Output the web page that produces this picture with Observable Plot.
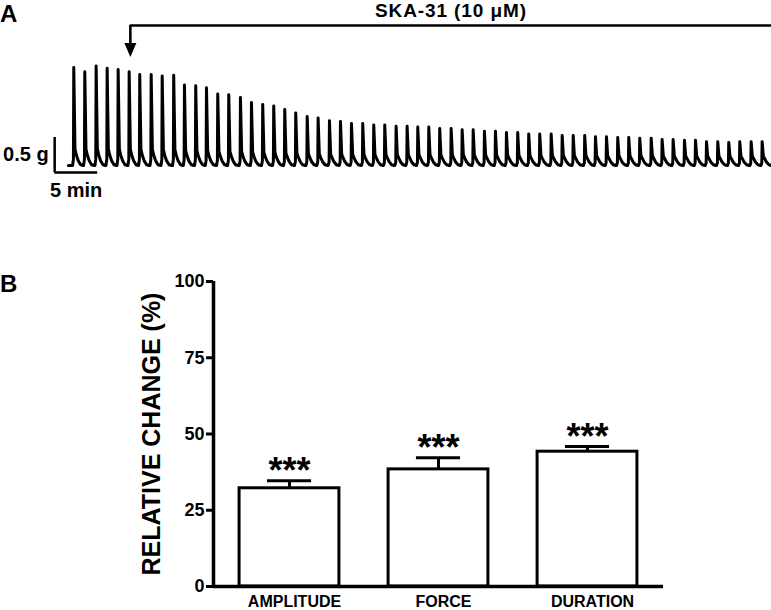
<!DOCTYPE html>
<html><head><meta charset="utf-8">
<script src="https://cdn.jsdelivr.net/npm/d3@7"></script>
<script src="https://cdn.jsdelivr.net/npm/@observablehq/plot@0.6"></script>
<style>
body{margin:0;background:#fff;}
#wrap{position:relative;width:771px;height:610px;font-family:"Liberation Sans",Arial,sans-serif;font-weight:bold;overflow:hidden;}
.panel{position:absolute;left:0;}
.letter{position:absolute;left:0;font-size:24px;line-height:normal;color:#000;}
</style></head><body>
<div id="wrap">
<div id="a" class="panel" style="top:0"></div>
<div id="b" class="panel" style="top:200px"></div>
<div class="letter" style="top:0px">A</div>
<div class="letter" style="top:270px">B</div>
</div>
<script>
// ---- Panel A data: contraction peaks (time in min, tension in g above baseline)
const peakTimes = [0.62,1.90,3.22,4.50,5.78,7.06,8.29,9.62,10.90,12.24,
  13.49,14.80,16.05,17.36,18.64,20.00,21.28,22.59,23.87,25.15,
  26.43,27.76,29.03,30.35,31.63,32.91,34.22,35.50,36.78,38.10,
  39.38,40.62,41.90,43.17,44.50,45.78,47.06,48.37,49.65,50.93,
  52.24,53.52,54.80,56.13,57.41,58.69,60.03,61.28,62.56,63.87,
  65.15,66.43,67.76,69.03,70.31,71.63,72.91,74.19,75.50,76.78,
  78.06,79.38,80.66];
const peakForces = [1.40,1.34,1.42,1.39,1.37,1.34,1.30,1.30,1.28,1.29,
  1.15,1.14,1.11,1.02,1.01,0.97,0.90,0.87,0.85,0.80,
  0.75,0.70,0.68,0.64,0.63,0.60,0.60,0.58,0.58,0.56,
  0.56,0.55,0.55,0.53,0.53,0.51,0.51,0.49,0.49,0.47,
  0.47,0.45,0.45,0.45,0.43,0.43,0.43,0.41,0.41,0.40,
  0.40,0.39,0.39,0.37,0.37,0.36,0.36,0.34,0.34,0.33,
  0.34,0.34,0.34];
// contraction profile: [offset from peak (min), fraction of peak, extra tension (g)]
const waveProfile = [[-0.14,0,0],[-0.04,0.05,0.02],[0,1,0],[0.14,0.10,0.10],[0.30,0.05,0.08],[0.52,0.02,0.04],[0.80,0,0.01],[1.10,0,0]];
const traceStart = 0, traceEnd = 81.75;
const drug = {label: "SKA-31 (10 \u03BCM)", start: 7.2, end: 81.75, level: 2.0, tip: 1.55};
const scaleBar = {t0: -1.6, g0: -0.1, dg: 0.5, dt: 5, gLabel: "0.5 g", tLabel: "5 min"};

// ---- Panel B data
const categories = ["AMPLITUDE", "FORCE", "DURATION"];
const means = [32.2, 38.4, 44.2];
const sems = [2.5, 3.8, 1.7];
const significance = ["***", "***", "***"];
const yTicks = [0, 25, 50, 75, 100];
const yLabel = "RELATIVE CHANGE (%)";

const font = '"Liberation Sans", Arial, sans-serif';

// build trace
const trace = [{t: traceStart, g: 0}];
peakTimes.forEach((t, i) => {
  for (const [dt, f, extra] of waveProfile) trace.push({t: t + dt, g: f * peakForces[i] + extra});
});
trace.push({t: traceEnd, g: 0});

const downTriangle = {
  draw(ctx, size) {
    const r = Math.sqrt(size / Math.PI);
    ctx.moveTo(0, 0);
    ctx.lineTo(-r, -2.33 * r);
    ctx.lineTo(r, -2.33 * r);
    ctx.closePath();
  }
};

const plotA = Plot.plot({
  width: 771, height: 200, margin: 0,
  x: {domain: [-7.9, 81.75], axis: null},
  y: {domain: [-0.5, 2.357], axis: null},
  style: {fontFamily: font, fontWeight: "bold", background: "transparent", overflow: "visible"},
  marks: [
    Plot.line(trace, {x: "t", y: "g", stroke: "black", strokeWidth: 3, strokeLinejoin: "round"}),
    Plot.ruleX([scaleBar], {x: "t0", y1: "g0", y2: d => d.g0 + d.dg, strokeWidth: 2.5}),
    Plot.ruleY([scaleBar], {y: "g0", x1: "t0", x2: d => d.t0 + d.dt, strokeWidth: 2.5}),
    Plot.text([scaleBar], {x: "t0", y: d => d.g0 + d.dg / 2, text: "gLabel", textAnchor: "end", dx: -6, fontSize: 20}),
    Plot.text([scaleBar], {x: d => d.t0 + d.dt / 2, y: "g0", text: "tLabel", lineAnchor: "top", dy: 10, fontSize: 20}),
    Plot.ruleY([drug], {y: "level", x1: "start", x2: "end", strokeWidth: 2.6}),
    Plot.ruleX([drug], {x: "start", y1: "level", y2: d => d.tip + 0.12, strokeWidth: 2.6}),
    Plot.dot([drug], {x: "start", y: "tip", symbol: downTriangle, r: 6, fill: "black", stroke: "none"}),
    Plot.text([drug], {x: d => (d.start + d.end) / 2, y: "level", text: "label", lineAnchor: "bottom", dy: -8.5, fontSize: 19})
  ]
});
plotA.querySelectorAll("text").forEach(t => { if (t.textContent.startsWith("SKA")) t.style.letterSpacing = "0.9px"; });
document.getElementById("a").append(plotA);

const barData = categories.map((c, i) => ({i, c, mean: means[i], sem: sems[i], sig: significance[i]}));
const half = 0.335, cap = 0.148, xMin = -0.51, xMax = 2.51;

const plotB = Plot.plot({
  width: 771, height: 410, marginTop: 81, marginBottom: 24, marginLeft: 213, marginRight: 108,
  x: {domain: [xMin, xMax], axis: null},
  y: {domain: [0, 100], axis: null},
  style: {fontFamily: font, fontWeight: "bold", background: "transparent", overflow: "visible", color: "black"},
  marks: [
    Plot.axisY({ticks: yTicks, tickSize: 7, tickPadding: 2, fontSize: 18, strokeWidth: 3, label: null}),
    Plot.axisX({ticks: [0, 1, 2], tickFormat: i => categories[i], tickSize: 0, tickPadding: 9, fontSize: 16, label: null, dx: 5}),
    Plot.rectY(barData, {x1: d => d.i - half, x2: d => d.i + half, y1: 0, y2: "mean", fill: "white", stroke: "black", strokeWidth: 3}),
    Plot.ruleX(barData, {x: "i", y1: "mean", y2: d => d.mean + d.sem, strokeWidth: 3}),
    Plot.ruleY(barData, {y: d => d.mean + d.sem, x1: d => d.i - cap, x2: d => d.i + cap, strokeWidth: 3}),
    Plot.text(barData, {x: "i", y: d => d.mean + d.sem, text: "sig", fontSize: 36, lineAnchor: "bottom", dy: 2}),
    Plot.ruleX([xMin], {y1: 0, y2: 100, strokeWidth: 3.5}),
    Plot.ruleY([0], {strokeWidth: 3.5}),
    Plot.text([yLabel], {text: d => d, frameAnchor: "left", textAnchor: "middle", rotate: -90, dx: -62, fontSize: 25})
  ]
});
document.getElementById("b").append(plotB);
</script>
</body></html>
